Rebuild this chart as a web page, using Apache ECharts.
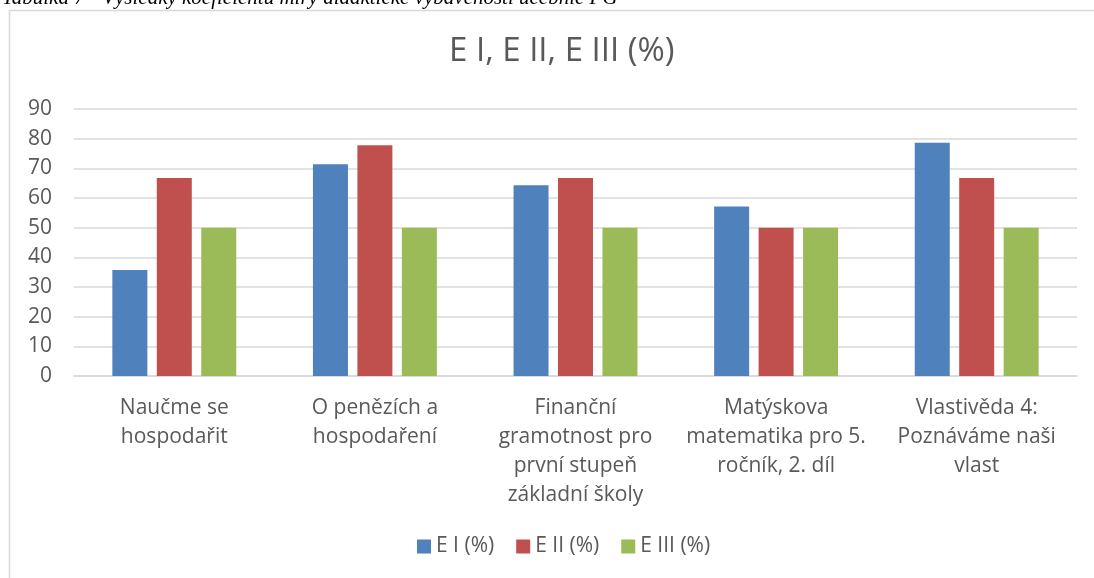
<!DOCTYPE html>
<html>
<head>
<meta charset="utf-8">
<script src="https://cdn.jsdelivr.net/npm/echarts@6/dist/echarts.min.js"></script>
<style>
  html, body { margin: 0; padding: 0; background: #fff; }
  #main { width: 1094px; height: 578px; }
</style>
</head>
<body>
<div id="main"></div>
<script>
// categories (textbooks)
var categories = [
  'Naučme se\nhospodařit',
  'O penězích a\nhospodaření',
  'Finanční\ngramotnost pro\nprvní stupeň\nzákladní školy',
  'Matýskova\nmatematika pro 5.\nročník, 2. díl',
  'Vlastivěda 4:\nPoznáváme naši\nvlast'
];
var seriesNames = ['E I (%)', 'E II (%)', 'E III (%)'];
var e1 = [35.7, 71.4, 64.3, 57.1, 78.6];
var e2 = [66.7, 77.8, 66.7, 50, 66.7];
var e3 = [50, 50, 50, 50, 50];
var colors = ['#4f81bd', '#c0504d', '#9bbb59'];

var chart = echarts.init(document.getElementById('main'));

var font = '"Open Sans", sans-serif';

var option = {
  color: colors,
  animation: false,
  title: {
    text: 'E I, E II, E III (%)',
    left: 444,
    top: 30,
    textStyle: { fontFamily: font, fontSize: 33, fontWeight: 'normal', color: '#595959' }
  },
  graphic: [
    {
      type: 'rect',
      shape: { x: 9.5, y: 10.5, width: 1100, height: 600 },
      style: { fill: 'none', stroke: '#d9d9d9', lineWidth: 1.5 }
    },
    {
      type: 'text',
      left: 2,
      top: -12,
      style: {
        text: 'Tabulka 7 - Výsledky koeficientu míry didaktické vybavenosti učebnic FG',
        font: 'italic 21px "Liberation Serif", serif',
        fill: '#000'
      }
    }
  ],
  legend: {
    data: seriesNames,
    bottom: 16,
    left: 412,
    itemWidth: 14,
    itemHeight: 14,
    itemGap: 22,
    icon: 'rect',
    textStyle: { fontFamily: font, fontSize: 21, color: '#595959' }
  },
  grid: {
    left: 74,
    right: 17,
    top: 109,
    bottom: 202
  },
  xAxis: {
    type: 'category',
    data: categories,
    axisTick: { show: false },
    axisLine: { lineStyle: { color: '#d9d9d9', width: 1.5 } },
    axisLabel: {
      fontFamily: font,
      fontSize: 21,
      color: '#595959',
      lineHeight: 29,
      margin: 18,
      interval: 0
    }
  },
  yAxis: {
    type: 'value',
    min: 0,
    max: 90,
    interval: 10,
    axisLine: { show: false },
    axisTick: { show: false },
    splitLine: { lineStyle: { color: '#d9d9d9', width: 1.5 } },
    axisLabel: { fontFamily: font, fontSize: 21, color: '#595959', margin: 22 }
  },
  series: [
    { name: seriesNames[0], type: 'bar', data: e1, barWidth: 35, barGap: '27%' },
    { name: seriesNames[1], type: 'bar', data: e2, barWidth: 35, barGap: '27%' },
    { name: seriesNames[2], type: 'bar', data: e3, barWidth: 35, barGap: '27%' }
  ]
};

chart.setOption(option);
</script>
</body>
</html>
